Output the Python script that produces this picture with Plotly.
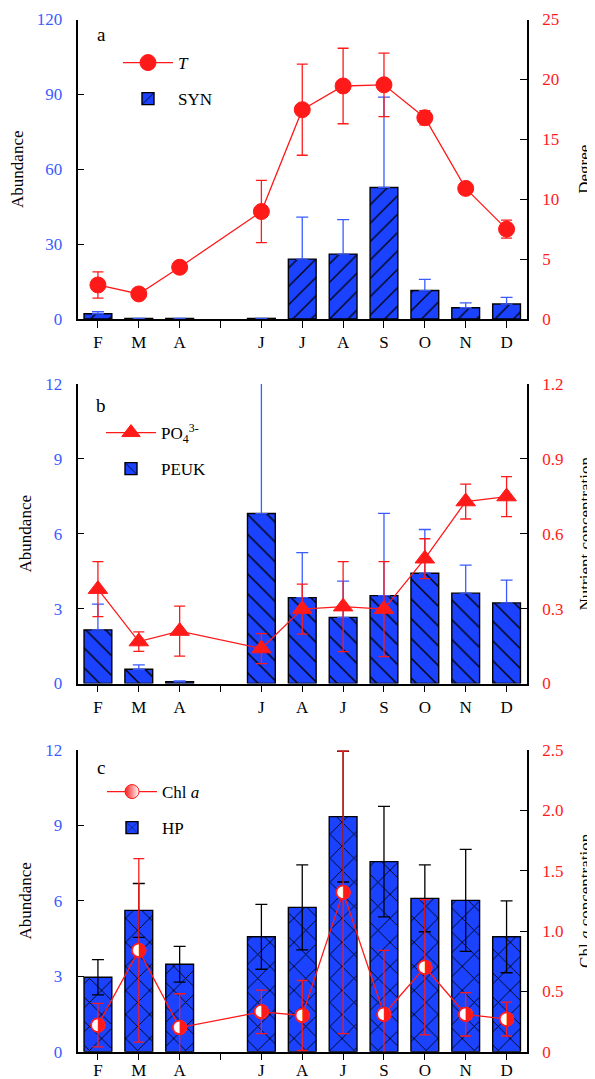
import plotly.graph_objects as go

# ---------------- data ----------------
x_idx = list(range(11))
labels_a = ["F", "M", "A", "", "J", "J", "A", "S", "O", "N", "D"]
labels_bc = ["F", "M", "A", "", "J", "A", "J", "S", "O", "N", "D"]

syn = [2.1, 0.25, 0.25, None, 0.25, 24.0, 26.0, 52.7, 11.4, 4.5, 6.0]
syn_err = [0.8, 0, 0, None, 0, 16.8, 13.8, 36.2, 4.5, 2.0, 2.7]
temp = [2.84, 2.09, 4.32, None, 8.97, 17.47, 19.45, 19.55, 16.8, 10.9, 7.5]
temp_err = [1.1, 0, 0.2, None, 2.6, 3.8, 3.15, 2.65, 0.6, 0.45, 0.75]

peuk = [2.15, 0.57, 0.07, None, 6.81, 3.44, 2.65, 3.52, 4.42, 3.62, 3.23]
peuk_err = [1.03, 0.18, 0.03, None, 5.49, 1.8, 1.45, 3.3, 1.75, 1.12, 0.91]
po4 = [0.378, 0.168, 0.21, None, 0.14, 0.298, 0.308, 0.298, 0.50, 0.729, 0.749]
po4_err = [0.11, 0.039, 0.1, None, 0.06, 0.1, 0.18, 0.19, 0.08, 0.07, 0.08]

hp = [2.96, 5.62, 3.48, None, 4.57, 5.74, 9.35, 7.56, 6.10, 6.02, 4.57]
hp_err = [0.7, 1.07, 0.71, None, 1.29, 1.69, 2.6, 2.2, 1.33, 2.03, 1.43]
chl = [0.22, 0.84, 0.20, None, 0.33, 0.30, 1.32, 0.31, 0.70, 0.31, 0.27]
chl_err = [0.18, 0.76, 0.28, None, 0.18, 0.29, 1.17, 0.53, 0.56, 0.18, 0.14]

# ---------------- style ----------------
FONT = "Liberation Serif"
BLUE_BAR = "#1a42ff"
BLUE_TXT = "#3a5cff"
RED = "#ff1a1a"
OFF = 8                      # page body margin
W, H = 595 - OFF, 1079 - OFF

def px_x(p):
    return (p - OFF) / W

def px_y(p):
    return 1 - (p - OFF) / H

fig = go.Figure()

def bar_trace(y, err, shape, psize, name, xa, ya, legend, symmetric):
    eb = dict(type="data", array=err, visible=True, color=BLUE_TXT if not symmetric else "black",
              thickness=1.3, width=6)
    if not symmetric:
        eb["symmetric"] = False
        eb["arrayminus"] = [0 if v is not None else None for v in err]
    return go.Bar(
        x=x_idx, y=y, name=name, xaxis=xa, yaxis=ya, legend=legend, legendgroup=name,
        width=0.68,
        marker=dict(color=BLUE_BAR, line=dict(color="black", width=1.4),
                    pattern=dict(shape=shape, fgcolor="black", bgcolor=BLUE_BAR,
                                 size=psize, solidity=0.1, fillmode="replace")),
        error_y=eb, legendrank=2,
    )

def line_trace(y, err, symbol, size, name, xa, ya, legend, **mk):
    marker = dict(symbol=symbol, size=size, color=RED, line=dict(color=RED, width=1))
    marker.update(mk)
    return go.Scatter(
        x=x_idx, y=y, name=name, xaxis=xa, yaxis=ya, legend=legend, legendgroup=name,
        mode="lines+markers", connectgaps=True,
        line=dict(color=RED, width=1.3), marker=marker,
        error_y=dict(type="data", array=err, visible=True, color=RED, thickness=1.3, width=5.5),
        legendrank=1,
    )

# panel a
fig.add_trace(bar_trace(syn, syn_err, "/", 13, "SYN", "x", "y", "legend", False))
fig.add_trace(line_trace(temp, temp_err, "circle", 16, "<i>T</i>", "x", "y2", "legend"))
# panel b
fig.add_trace(bar_trace(peuk, peuk_err, "\\", 14, "PEUK", "x2", "y3", "legend2", False))
fig.add_trace(line_trace(po4, po4_err, "triangle-up", 17, "PO<sub>4</sub><sup>3-</sup>", "x2", "y4", "legend2"))
# panel c
fig.add_trace(bar_trace(hp, hp_err, "x", 17, "HP", "x3", "y5", "legend3", True))
fig.add_trace(line_trace(chl, chl_err, "circle", 14, "Chl <i>a</i>", "x3", "y6", "legend3",
                         color=RED, gradient=dict(type="horizontal", color="white")))
fig.add_trace(go.Scatter(
    x=x_idx, y=chl, xaxis="x3", yaxis="y6", mode="markers+text", showlegend=False,
    marker=dict(symbol="circle", size=14, color="white", line=dict(color=RED, width=1.3)),
    text=["\u25D1" if v is not None else "" for v in chl], textposition="middle center",
    textfont=dict(family="DejaVu Sans", size=18, color=RED), hoverinfo="skip",
))

xdom = [px_x(77.5), px_x(527)]
panels = [
    ("", "xaxis", "yaxis", "yaxis2", "y", "y2", (19.5, 319), labels_a,
     dict(range=[0, 120], tickvals=[0, 30, 60, 90, 120]),
     dict(range=[0, 25], tickvals=[0, 5, 10, 15, 20, 25]), "Degree", 11, 0),
    ("2", "xaxis2", "yaxis3", "yaxis4", "y3", "y4", (384, 683.5), labels_bc,
     dict(range=[0, 12], tickvals=[0, 3, 6, 9, 12]),
     dict(range=[0, 1.2], tickvals=[0, 0.3, 0.6, 0.9, 1.2], ticktext=["0", "0.3", "0.6", "0.9", "1.2"]),
     "Nutrient concentration", 9, 0),
    ("3", "xaxis3", "yaxis5", "yaxis6", "y5", "y6", (750, 1051.7), labels_bc,
     dict(range=[0, 12], tickvals=[0, 3, 6, 9, 12]),
     dict(range=[0, 2.5], tickvals=[0, 0.5, 1, 1.5, 2, 2.5], ticktext=["0", "0.5", "1.0", "1.5", "2.0", "2.5"]),
     "Chl <i>a</i> concentration", 9, -5),
]

tickfont_common = dict(family=FONT, size=17)
for suf, xname, yl, yr, ylid, yrid, (top, bot), labs, lcfg, rcfg, rtitle, lstand, xstand in panels:
    xid = "x" + suf
    fig.update_layout(**{
        xname: dict(domain=xdom, anchor=ylid, range=[-0.5, 10.5], tickvals=x_idx, ticktext=labs,
                    showline=True, linecolor="black", linewidth=1.5, ticks="outside", ticklen=7,
                    tickcolor="black", tickwidth=1.3, showgrid=False, zeroline=False,
                    tickfont=dict(family=FONT, size=17, color="black"), ticklabelstandoff=xstand,
                    automargin=False),
        yl: dict(domain=[px_y(bot), px_y(top)], anchor=xid, showline=True, linecolor="black",
                 linewidth=1.5, ticks="inside", ticklen=7, tickcolor="black", tickwidth=1.3,
                 showgrid=False, zeroline=False, tickfont=dict(tickfont_common, color=BLUE_TXT),
                 ticklabelstandoff=10, automargin=False,
                 title=dict(text="Abundance", font=dict(family=FONT, size=17, color="black"), standoff=lstand),
                 **lcfg),
        yr: dict(overlaying=ylid, anchor=xid, side="right", showline=True, linecolor="black",
                 linewidth=1.5, ticks="inside", ticklen=7, tickcolor="black", tickwidth=1.3,
                 showgrid=False, zeroline=False, tickfont=dict(tickfont_common, color=RED),
                 ticklabelstandoff=10, automargin=False,
                 title=dict(text=rtitle, font=dict(family=FONT, size=17, color="black"), standoff=20),
                 **rcfg),
    })

leg_common = dict(font=dict(family=FONT, size=17, color="black"), bgcolor="rgba(0,0,0,0)",
                  xanchor="left", yanchor="top", traceorder="grouped", tracegroupgap=11,
                  itemwidth=50)
fig.update_layout(
    legend=dict(leg_common, x=px_x(118), y=px_y(45)),
    legend2=dict(leg_common, x=px_x(101), y=px_y(415)),
    legend3=dict(leg_common, x=px_x(102), y=px_y(774)),
)

for txt, yy in [("a", 34), ("b", 405), ("c", 767)]:
    fig.add_annotation(text=txt, x=px_x(101), y=px_y(yy), xref="paper", yref="paper",
                       xanchor="center", yanchor="middle",
                       showarrow=False, font=dict(family=FONT, size=19, color="black"))

fig.update_layout(width=W, height=H, margin=dict(l=0, r=0, t=0, b=0, autoexpand=False),
                  paper_bgcolor="white", plot_bgcolor="rgba(0,0,0,0)", barmode="overlay",
                  showlegend=True)

fig.write_html("out.html")
